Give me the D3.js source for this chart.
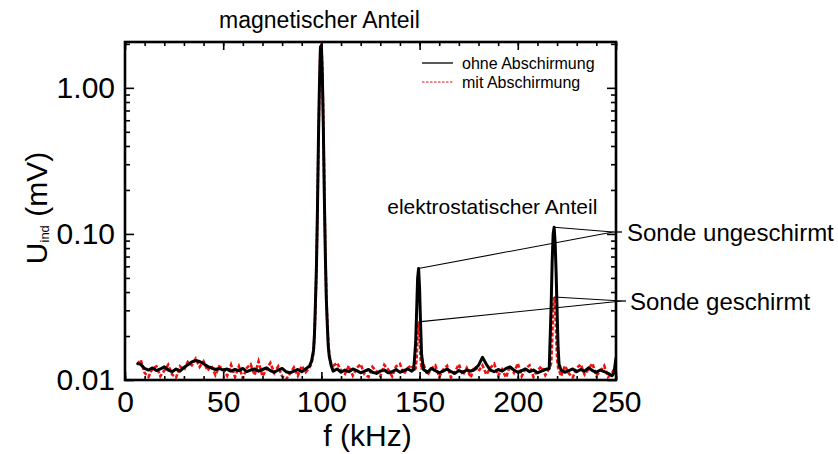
<!DOCTYPE html>
<html>
<head>
<meta charset="utf-8">
<script src="https://cdn.jsdelivr.net/npm/d3@7"></script>
<style>
  html, body { margin: 0; padding: 0; background: #fff; }
  svg { display: block; font-family: "Liberation Sans", Arial, sans-serif; }
</style>
</head>
<body>
<div id="chart"></div>
<script>
// frequency grid (kHz), shared by both series
const freq = [
  6, 8, 10, 12, 14, 16, 18, 20, 22, 24, 26, 28, 30, 32, 34, 36, 38, 40, 42, 44, 46, 48,
  50, 52, 54, 56, 58, 60, 62, 64, 66, 68, 70, 72, 74, 76, 78, 80, 82, 84, 86, 88, 90, 92, 94,
  95, 96, 96.5, 97, 97.5, 98, 98.5, 99, 99.5, 100, 100.5, 101, 101.5, 102, 102.5, 103, 103.5, 104, 105,
  106, 108, 110, 112, 114, 116, 118, 120, 122, 124, 126, 128, 130, 132, 134, 136, 138, 140, 142, 144, 146,
  147, 148, 148.5, 149, 149.5, 150, 150.5, 151,
  152, 154, 156, 158, 160, 162, 164, 166, 168, 170, 172, 174, 176, 178, 180, 182, 184, 186, 188, 190,
  192, 194, 196, 198, 200, 202, 204, 206, 208, 210, 212, 214, 216,
  217, 217.5, 218, 218.5, 219, 219.5, 220, 220.5, 221,
  222, 224, 226, 228, 230, 232, 234, 236, 238, 240, 242, 244, 246, 248, 249, 250
];

// U_ind (mV), ohne Abschirmung
const ohne = [
  0.0130, 0.0128, 0.0120, 0.0117, 0.0121, 0.0116, 0.0119, 0.0123, 0.0117, 0.0114, 0.0119, 0.0115,
  0.0122, 0.0127, 0.0133, 0.0136, 0.0134, 0.0129, 0.0124, 0.0121, 0.0118, 0.0120,
  0.0117, 0.0119, 0.0115, 0.0118, 0.0116, 0.0120, 0.0114, 0.0117, 0.0119, 0.0115, 0.0118, 0.0121,
  0.0116, 0.0113, 0.0117, 0.0120, 0.0114, 0.0112, 0.0115, 0.0118, 0.0114, 0.0119, 0.0125,
  0.0135, 0.0160, 0.0210, 0.035, 0.062, 0.15, 0.45, 1.05, 1.90, 1.95, 1.20, 0.52, 0.18, 0.072,
  0.036, 0.024, 0.017, 0.0145, 0.0125,
  0.0115, 0.0119, 0.0113, 0.0117, 0.0114, 0.0119, 0.0116, 0.0112, 0.0115, 0.0118, 0.0113, 0.0111,
  0.0115, 0.0117, 0.0112, 0.0114, 0.0118, 0.0113, 0.0116, 0.0119, 0.0115,
  0.0118, 0.018, 0.030, 0.050, 0.058, 0.042, 0.024, 0.015,
  0.0118, 0.0113, 0.0120, 0.0116, 0.0112, 0.0115, 0.0119, 0.0114, 0.0111, 0.0116, 0.0113, 0.0117,
  0.0115, 0.0118, 0.0126, 0.0143, 0.0128, 0.0117, 0.0114, 0.0118,
  0.0115, 0.0120, 0.0123, 0.0117, 0.0113, 0.0116, 0.0119, 0.0114, 0.0117, 0.0112, 0.0115, 0.0118, 0.0120,
  0.033, 0.065, 0.100, 0.111, 0.088, 0.055, 0.030, 0.017, 0.0128,
  0.0117, 0.0113, 0.0116, 0.0119, 0.0114, 0.0118, 0.0115, 0.0121, 0.0116, 0.0113, 0.0117, 0.0114,
  0.0111, 0.0107, 0.0112, 0.0142
];

// U_ind (mV), mit Abschirmung
const mit = [
  0.0128, 0.0137, 0.0112, 0.0105, 0.0120, 0.0124, 0.0106, 0.0116, 0.0127, 0.0109, 0.0104, 0.0124,
  0.0117, 0.0133, 0.0126, 0.0140, 0.0123, 0.0134, 0.0116, 0.0125, 0.0108, 0.0124,
  0.0119, 0.0107, 0.0127, 0.0105, 0.0124, 0.0103, 0.0121, 0.0128, 0.0108, 0.0134, 0.0106, 0.0118,
  0.0131, 0.0112, 0.0124, 0.0106, 0.0101, 0.0111, 0.0122, 0.0107, 0.0125, 0.0113, 0.0122,
  0.0130, 0.0155, 0.0200, 0.032, 0.058, 0.14, 0.43, 1.00, 1.90, 2.00, 1.30, 0.58, 0.20, 0.078,
  0.038, 0.025, 0.018, 0.0150, 0.0128,
  0.0125, 0.0131, 0.0116, 0.0110, 0.0125, 0.0107, 0.0121, 0.0128, 0.0109, 0.0105, 0.0123, 0.0115,
  0.0106, 0.0127, 0.0118, 0.0106, 0.0124, 0.0129, 0.0110, 0.0121, 0.0126,
  0.0116, 0.0120, 0.0140, 0.021, 0.025, 0.020, 0.014, 0.0118,
  0.0128, 0.0108, 0.0120, 0.0126, 0.0105, 0.0118, 0.0125, 0.0104, 0.0114, 0.0128, 0.0108, 0.0121,
  0.0104, 0.0124, 0.0115, 0.0126, 0.0109, 0.0121, 0.0129, 0.0107,
  0.0118, 0.0104, 0.0125, 0.0112, 0.0130, 0.0106, 0.0120, 0.0126, 0.0105, 0.0116, 0.0124, 0.0108, 0.0120,
  0.0130, 0.019, 0.031, 0.037, 0.032, 0.021, 0.014, 0.0122, 0.0117,
  0.0106, 0.0125, 0.0111, 0.0104, 0.0121, 0.0128, 0.0109, 0.0119, 0.0130, 0.0107, 0.0115, 0.0125,
  0.0105, 0.0111, 0.0119, 0.0125
];

const xMajor = [0, 50, 100, 150, 200, 250];
const xMinor = d3.range(0, 251, 10);
const yMajor = [0.01, 0.1, 1];
const yLabels = ['0.01', '0.10', '1.00'];
const yMinor = [0.02, 0.03, 0.04, 0.05, 0.06, 0.07, 0.08, 0.09,
                0.2, 0.3, 0.4, 0.5, 0.6, 0.7, 0.8, 0.9, 2];

// peaks the annotation lines point to: [f, U]
const peaksUngeschirmt = [[149.4, 0.058], [218.5, 0.111]];
const peaksGeschirmt = [[149.5, 0.025], [218.5, 0.037]];

const W = 838, H = 454,
      margin = {top: 42, right: 222, bottom: 74, left: 125},
      innerW = W - margin.left - margin.right,
      innerH = H - margin.top - margin.bottom,
      RED = '#ee1111';

const svg = d3.select('#chart').append('svg')
  .attr('width', W).attr('height', H);

const x = d3.scaleLinear().domain([0, 250]).range([0, innerW]);
const y = d3.scaleLog().domain([0.01, 2.06]).range([innerH, 0]);

const g = svg.append('g').attr('transform', `translate(${margin.left},${margin.top})`);

g.append('clipPath').attr('id', 'clip')
  .append('rect').attr('width', innerW).attr('height', innerH);

const line = d3.line()
  .x((d, i) => x(freq[i]))
  .y(d => y(d));

const plot = g.append('g').attr('clip-path', 'url(#clip)');

plot.append('path').datum(mit)
  .attr('d', line)
  .attr('fill', 'none')
  .attr('stroke', RED)
  .attr('stroke-width', 2.6)
  .attr('stroke-dasharray', '4,2');

plot.append('path').datum(ohne)
  .attr('d', line)
  .attr('fill', 'none')
  .attr('stroke', '#000')
  .attr('stroke-width', 3)
  .attr('stroke-linejoin', 'round');

// axes, ticks pointing inward
const tickStyle = sel => {
  sel.select('.domain').remove();
  sel.selectAll('line').attr('stroke', '#000').attr('stroke-width', 1.6);
  sel.selectAll('text').attr('font-size', 30).attr('fill', '#000')
    .attr('font-family', '"Liberation Sans", Arial, sans-serif');
};

g.append('g').attr('transform', `translate(0,${innerH})`)
  .call(d3.axisBottom(x).tickValues(xMinor).tickSize(-4).tickFormat(''))
  .call(tickStyle);
g.append('g').attr('transform', `translate(0,${innerH})`)
  .call(d3.axisBottom(x).tickValues(xMajor).tickSize(-8).tickPadding(11).tickFormat(d3.format('d')))
  .call(tickStyle);
g.append('g')
  .call(d3.axisTop(x).tickValues(xMinor).tickSize(-4).tickFormat(''))
  .call(tickStyle);
g.append('g')
  .call(d3.axisTop(x).tickValues(xMajor).tickSize(-8).tickFormat(''))
  .call(tickStyle);

g.append('g')
  .call(d3.axisLeft(y).tickValues(yMinor).tickSize(-5).tickFormat(''))
  .call(tickStyle);
g.append('g')
  .call(d3.axisLeft(y).tickValues(yMajor).tickSize(-9).tickPadding(10)
    .tickFormat((d, i) => yLabels[i]))
  .call(tickStyle);
g.append('g').attr('transform', `translate(${innerW},0)`)
  .call(d3.axisRight(y).tickValues(yMinor).tickSize(-5).tickFormat(''))
  .call(tickStyle);
g.append('g').attr('transform', `translate(${innerW},0)`)
  .call(d3.axisRight(y).tickValues(yMajor).tickSize(-9).tickFormat(''))
  .call(tickStyle);

g.append('rect')
  .attr('width', innerW).attr('height', innerH)
  .attr('fill', 'none').attr('stroke', '#000').attr('stroke-width', 2.6);

// axis titles
svg.append('text')
  .attr('x', margin.left + innerW / 2 - 3).attr('y', 446)
  .attr('text-anchor', 'middle').attr('font-size', 30)
  .text('f (kHz)');

const yt = svg.append('text')
  .attr('transform', `translate(47,${margin.top + innerH / 2 - 3}) rotate(-90)`)
  .attr('text-anchor', 'middle').attr('font-size', 30);
yt.append('tspan').text('U');
yt.append('tspan').attr('font-size', 13).attr('dy', 2).text('ind');
yt.append('tspan').attr('dy', -2).text(' (mV)');

// legend
const legend = g.append('g').attr('transform', `translate(${innerW - 194},21)`);
legend.append('line').attr('x1', 0).attr('x2', 31).attr('y1', 0).attr('y2', 0)
  .attr('stroke', '#000').attr('stroke-width', 1.3);
legend.append('line').attr('x1', 0).attr('x2', 31).attr('y1', 19).attr('y2', 19)
  .attr('stroke', RED).attr('stroke-width', 1.2).attr('stroke-dasharray', '2.5,1.5');
legend.append('text').attr('x', 40).attr('y', 5.5).attr('font-size', 16).text('ohne Abschirmung');
legend.append('text').attr('x', 40).attr('y', 24.5).attr('font-size', 16).text('mit Abschirmung');

// annotations
svg.append('text')
  .attr('x', margin.left + x(99)).attr('y', 28)
  .attr('text-anchor', 'middle').attr('font-size', 23)
  .text('magnetischer Anteil');

g.append('text')
  .attr('x', x(187)).attr('y', 172)
  .attr('text-anchor', 'middle').attr('font-size', 21)
  .text('elektrostatischer Anteil');

const annot = (peaks, jx, jy, ex, label, tx) => {
  peaks.forEach(p => {
    g.append('line')
      .attr('x1', x(p[0])).attr('y1', y(p[1]))
      .attr('x2', jx).attr('y2', jy)
      .attr('stroke', '#000').attr('stroke-width', 1.1);
  });
  g.append('line').attr('x1', jx).attr('x2', ex).attr('y1', jy).attr('y2', jy)
    .attr('stroke', '#000').attr('stroke-width', 1.3);
  g.append('text').attr('x', tx).attr('y', jy + 8.5)
    .attr('font-size', 24).text(label);
};

annot(peaksUngeschirmt, innerW - 3, 190, innerW + 6, 'Sonde ungeschirmt', innerW + 11);
annot(peaksGeschirmt, innerW + 6, 259, innerW + 10, 'Sonde geschirmt', innerW + 14);
</script>
</body>
</html>
